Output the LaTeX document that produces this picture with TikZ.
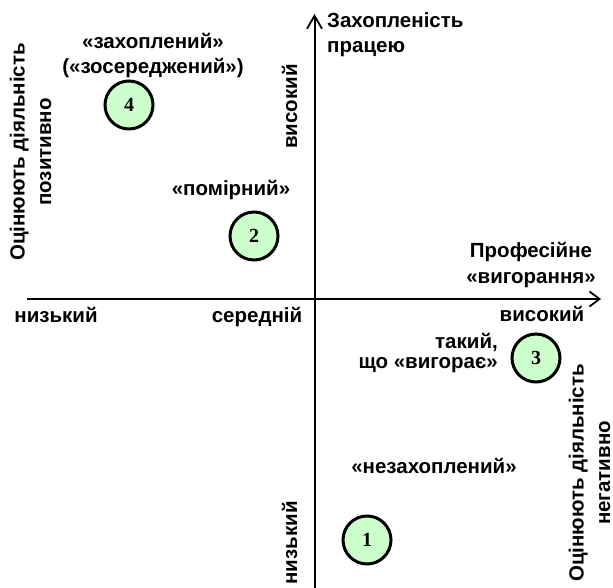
\documentclass[tikz,border=0pt]{standalone}
\usepackage{fontspec}
\setmainfont{Liberation Sans}
\newfontfamily\digitfont{Liberation Serif}
\usetikzlibrary{arrows.meta}
\definecolor{circfill}{RGB}{204,255,204}
\begin{document}
\begin{tikzpicture}[x=1pt,y=-1pt,
  lbl/.style={font=\fontsize{20.5}{25}\selectfont\bfseries, inner sep=0pt, align=center, anchor=base},
  sidelbl/.style={lbl, rotate=90, font=\fontsize{20.5}{26.5}\selectfont\bfseries},
  circ/.style={circle, draw=black, line width=3pt, fill=circfill, minimum size=48pt, inner sep=0pt, font=\fontsize{20}{20}\selectfont\digitfont\bfseries},
  axis/.style={line width=2pt}]
\useasboundingbox (0,0) rectangle (613,588);
\coordinate (vbot) at (314.5,588);
\coordinate (vtop) at (314.5,14);
\coordinate (hleft) at (27,299);
\coordinate (hright) at (601,299);
\draw[axis, -{Straight Barb[length=13pt,width=15pt,line width=1.8pt]}] (vbot) -- (vtop);
\draw[axis, -{Straight Barb[length=10pt,width=15pt,line width=1.8pt]}] (hleft) -- (hright);
% circles
\node[circ] (c4) at (129,105) {4};
\node[circ] (c2) at (254,236) {2};
\node[circ] (c3) at (536,358) {3};
\node[circ] (c1) at (367,540) {1};
% labels (base anchor = baseline of the last line)
\node[lbl] (t4) at (153,74) {«захоплений»\\(«зосереджений»)};
\node[lbl] (t2) at (231,196) {«помірний»};
\node[lbl, align=right, anchor=base east, font=\fontsize{20.5}{19.5}\selectfont\bfseries] (t3) at (498,368) {такий,\\що «вигорає»};
\node[lbl] (t1) at (434,473) {«незахоплений»};
\node[lbl, align=left, anchor=base west] (ty) at (327,53) {Захопленість\\працею};
\node[lbl] (tx) at (531,283) {Професійне\\«вигорання»};
\node[lbl] (xlow) at (56,322) {низький};
\node[lbl] (xmid) at (257,322) {середній};
\node[lbl] (xhigh) at (542,321) {високий};
\node[lbl, rotate=90] (yhigh) at (297,106.5) {високий};
\node[lbl, rotate=90] (ylow) at (297,543) {низький};
\node[sidelbl] (pos) at (51,152) {Оцінюють діяльність\\позитивно};
\node[sidelbl] (neg) at (610,473) {Оцінюють діяльність\\негативно};
\end{tikzpicture}
\end{document}
